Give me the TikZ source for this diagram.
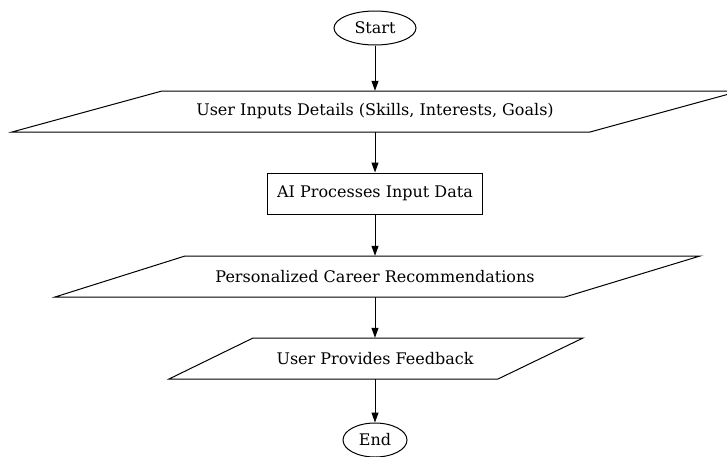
\documentclass[tikz,border=0pt]{standalone}
\usepackage{fontspec}
\setmainfont{DejaVu Serif}
\usetikzlibrary{arrows.meta,shapes.geometric}
\begin{document}
\begin{tikzpicture}[x=1pt,y=-1pt,
  every node/.style={font=\fontsize{16}{19}\selectfont, inner sep=0pt},
  term/.style={ellipse, draw, line width=1pt},
  txt/.style={minimum height=41pt},
  box/.style={draw, line width=1pt, minimum width=215pt, minimum height=41pt},
  shp/.style={draw, line width=1pt},
  conn/.style={line width=1pt, -{Triangle[length=10pt,width=7pt]}}]
\useasboundingbox (0,0) rectangle (727,456);
\node[term, minimum width=82pt, minimum height=34pt] (start) at (375,28) {Start};
% parallelogram 1
\draw[shp] (162,91) -- (740,91) -- (590,132) -- (12,132) -- cycle;
\node[txt] (p1) at (375,111.5) {User Inputs Details (Skills, Interests, Goals)};
\node[box] (ai) at (375,193.5) {AI Processes Input Data};
% parallelogram 2
\draw[shp] (185,256) -- (700,256) -- (565,297) -- (55,297) -- cycle;
\node[txt] (p2) at (375,276.5) {Personalized Career Recommendations};
% parallelogram 3
\draw[shp] (253,338) -- (583,338) -- (498,379) -- (169,379) -- cycle;
\node[txt] (p3) at (375,358.5) {User Provides Feedback};
\node[term, minimum width=64pt, minimum height=34pt] (end) at (375,440) {End};
\draw[conn] (start) -- (p1);
\draw[conn] (p1) -- (ai);
\draw[conn] (ai) -- (p2);
\draw[conn] (p2) -- (p3);
\draw[conn] (p3) -- (end);
\end{tikzpicture}
\end{document}
